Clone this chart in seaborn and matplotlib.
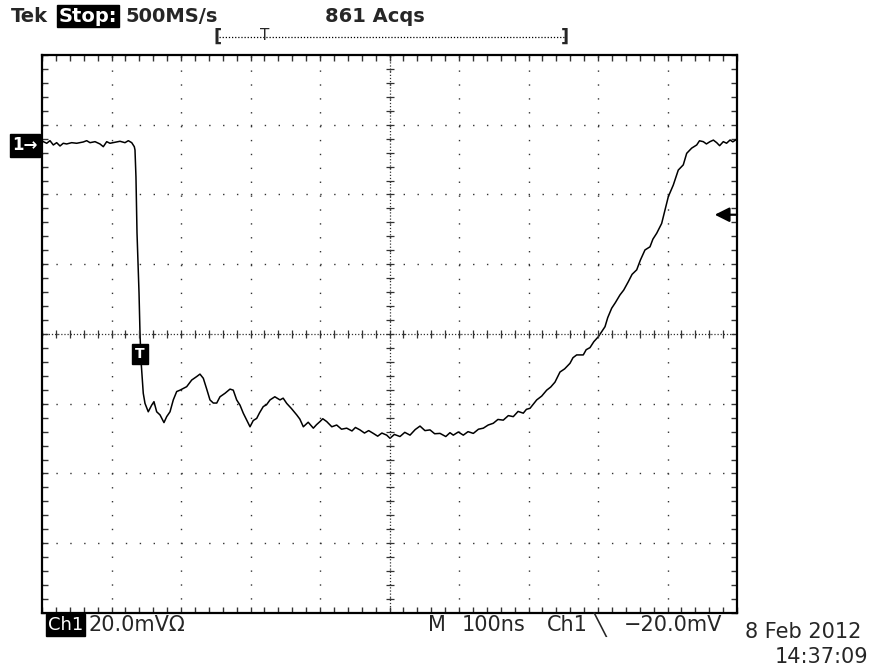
import numpy as np
import pandas as pd
import matplotlib
matplotlib.use("Agg")
import matplotlib.pyplot as plt
import seaborn as sns
from matplotlib.ticker import FixedLocator
from matplotlib.lines import Line2D

sns.set_theme(style="white")
plt.rcParams['font.family'] = ['DejaVu Sans']

# Ch1 trace: time in ns (relative to trigger), voltage in mV (relative to ground marker)
time_ns = [-141.0, -139.1, -134.2, -129.5, -124.7, -119.9, -115.1, -110.4, -105.5, -98.3,
           -91.1, -81.6, -76.7, -71.9, -64.7, -57.6, -52.8, -47.9, -43.2, -36.0,
           -28.8, -21.6, -16.8, -11.9, -8.2, -7.2, -5.8, -4.3, -1.4, 0.0,
           1.4, 4.7, 7.2, 11.9, 16.8, 20.1, 24.0, 28.8, 34.5, 38.4,
           43.2, 47.9, 52.8, 57.6, 62.3, 67.2, 74.4, 81.6, 86.3, 91.1,
           96.0, 100.7, 105.5, 110.4, 115.1, 122.3, 129.5, 134.2, 139.1, 143.9,
           148.6, 153.5, 158.3, 163.0, 167.9, 172.0, 177.4, 182.0, 187.1, 194.0,
           201.4, 206.0, 211.1, 218.0, 225.5, 230.0, 235.0, 242.0, 249.4, 254.0,
           259.0, 263.0, 268.6, 276.0, 283.0, 290.0, 297.4, 305.0, 310.0, 316.5,
           323.0, 329.0, 335.7, 342.0, 348.0, 355.0, 359.7, 366.0, 374.1, 381.0,
           388.5, 396.0, 402.9, 410.0, 417.3, 424.0, 431.7, 440.0, 446.0, 450.8,
           458.0, 465.2, 472.0, 479.6, 487.0, 494.0, 501.0, 508.3, 515.0, 522.7,
           530.0, 537.1, 544.0, 551.5, 556.0, 561.2, 570.8, 578.0, 585.2, 591.0,
           597.1, 604.3, 611.0, 618.7, 623.0, 628.3, 637.8, 642.0, 647.5, 653.0,
           659.4, 664.0, 669.1, 673.0, 678.7, 684.0, 690.6, 696.0, 702.6, 708.0,
           714.7, 720.0, 726.6, 733.8, 738.0, 743.5, 750.6, 755.4, 760.2, 767.3,
           774.5, 781.7, 786.6, 793.8, 801.0, 805.0, 810.5, 815.0, 820.1, 825.0,
           829.8, 834.0, 839.3, 844.0, 849.0, 853.0, 858.6]
ch1_mv = [0.9, 0.95, 0.49, 1.23, 0.0, 0.66, -0.29, 0.49, 0.29, 0.66,
          0.49, 0.86, 1.23, 0.66, 0.95, 0.29, -0.49, 0.95, 0.49, 0.77,
          1.06, 0.66, 1.23, 0.66, -0.49, -1.43, -9.18, -25.2, -42.4, -53.9,
          -61.6, -71.2, -74.1, -76.5, -74.6, -73.6, -76.5, -77.4, -79.6, -77.9,
          -76.5, -73.1, -70.7, -70.3, -69.8, -69.3, -67.4, -66.4, -65.7, -66.9,
          -70.0, -73.1, -74.0, -74.0, -72.2, -71.2, -70.0, -70.3, -73.1, -74.6,
          -76.9, -78.9, -80.8, -79.0, -78.4, -76.8, -75.0, -74.5, -73.1, -72.2,
          -73.1, -72.6, -74.1, -75.6, -77.4, -78.6, -80.8, -79.5, -81.2, -80.2,
          -79.3, -78.5, -79.3, -80.8, -80.3, -81.5, -81.2, -82.0, -81.0, -81.7,
          -82.6, -81.9, -82.7, -83.5, -82.6, -83.2, -84.1, -83.0, -83.6, -82.4,
          -83.2, -81.6, -80.6, -81.9, -81.7, -82.8, -82.7, -83.6, -82.5, -83.2,
          -82.3, -83.2, -82.2, -82.7, -81.5, -81.2, -80.3, -79.8, -78.7, -78.9,
          -77.6, -77.9, -76.4, -76.9, -75.8, -75.5, -73.1, -72.0, -70.3, -69.4,
          -68.0, -65.1, -64.2, -62.6, -61.0, -60.2, -60.2, -58.7, -58.1, -56.4,
          -55.0, -53.6, -52.1, -49.5, -46.8, -45.2, -43.0, -41.6, -39.2, -37.1,
          -35.8, -33.0, -30.1, -29.2, -27.0, -25.3, -22.5, -18.6, -14.8, -11.5,
          -7.2, -5.7, -2.4, -0.9, 0.0, 1.2, 0.95, 0.3, 0.95, 1.4,
          0.66, -0.2, 0.95, 0.5, 1.43, 0.9, 1.63]

# screen settings: 100 ns/div, 20 mV/div, 10 x 8 divisions
T_LEFT, T_DIV = -141.0, 100.0
V_BOTTOM, V_DIV = -134.2, 20.0
TRIG_LEVEL = -20.0
TRIG_MARK_V = -59.9

W, H = 873, 670
def fx(x):
    return x / W
def fy(y):
    return 1 - y / H

df = pd.DataFrame({'t': time_ns, 'v': ch1_mv})

fig = plt.figure(figsize=(W / 100, H / 100), dpi=100)
ax = fig.add_axes([fx(42), fy(613), 695 / W, 558 / H])

sns.lineplot(data=df, x='t', y='v', ax=ax, color='black', lw=1.1,
             sort=False, estimator=None)

t_right = T_LEFT + 10 * T_DIV
v_top = V_BOTTOM + 8 * V_DIV
ax.set_xlim(T_LEFT, t_right)
ax.set_ylim(V_BOTTOM, v_top)
ax.set_xlabel('')
ax.set_ylabel('')

# graticule
ax.xaxis.set_major_locator(FixedLocator(np.arange(T_LEFT, t_right + 1, T_DIV)))
ax.yaxis.set_major_locator(FixedLocator(np.arange(V_BOTTOM, v_top + 0.1, V_DIV)))
ax.xaxis.set_minor_locator(FixedLocator(np.arange(T_LEFT, t_right + 1, T_DIV / 5)))
ax.yaxis.set_minor_locator(FixedLocator(np.arange(V_BOTTOM, v_top + 0.1, V_DIV / 5)))
ax.grid(True, which='major', color='#333333', lw=1.0, ls=(0, (1, 9)))
ax.tick_params(which='both', direction='in', length=4, width=1, color='#333333',
               top=True, right=True, bottom=True, left=True,
               labelbottom=False, labelleft=False)
for sp in ax.spines.values():
    sp.set_color('black')
    sp.set_linewidth(1.6)

tc = T_LEFT + 5 * T_DIV
vc = V_BOTTOM + 4 * V_DIV
ax.axvline(tc, color='#333333', lw=0.9, ls=(0, (1, 1.5)))
ax.axhline(vc, color='#333333', lw=0.9, ls=(0, (1, 1.5)))
xt = np.arange(T_LEFT, t_right + 1, T_DIV / 5)
yt = np.arange(V_BOTTOM, v_top + 0.1, V_DIV / 5)
ax.plot(xt, np.full(len(xt), vc), ls='none', marker='|', ms=6, mew=0.9, color='#333333')
ax.plot(np.full(len(yt), tc), yt, ls='none', marker='_', ms=6, mew=0.9, color='#333333')

# trigger marker and trigger level arrow
ax.text(0, TRIG_MARK_V, 'T', color='white', fontsize=10, fontweight='bold',
        ha='center', va='center', zorder=5,
        bbox=dict(fc='black', ec='black', boxstyle='square,pad=0.2'))
ax.annotate('', xy=(0.968, TRIG_LEVEL), xycoords=('axes fraction', 'data'),
            xytext=(1.0, TRIG_LEVEL), textcoords=('axes fraction', 'data'),
            arrowprops=dict(arrowstyle='-|>', color='black', lw=1.6, mutation_scale=22,
                            shrinkA=0, shrinkB=0))

# ground marker
fig.text(fx(12), fy(145), '1\u2192', color='white', fontsize=12, fontweight='bold',
         va='center', ha='left',
         bbox=dict(fc='black', ec='black', boxstyle='square,pad=0.15'))

# header
hk = dict(fontsize=14, fontweight='bold', va='center', ha='left')
fig.text(fx(11), fy(16), 'Tek', **hk)
fig.text(fx(59), fy(16), 'Stop:', color='white',
         bbox=dict(fc='black', ec='black', boxstyle='square,pad=0.1'), **hk)
fig.text(fx(125), fy(16), '500MS/s', **hk)
fig.text(fx(325), fy(16), '861 Acqs', **hk)

fig.add_artist(Line2D([fx(219), fx(564)], [fy(37), fy(37)], color='black',
                      lw=0.9, ls=(0, (1, 1.5))))
fig.text(fx(218), fy(37), '[', fontsize=13, fontweight='bold', ha='center', va='center')
fig.text(fx(565), fy(37), ']', fontsize=13, fontweight='bold', ha='center', va='center')
fig.text(fx(265), fy(36), 'T', fontsize=11, ha='center', va='center')

# footer
fk = dict(fontsize=15, va='center', ha='left')
fig.text(fx(48), fy(625), 'Ch1', color='white', fontsize=13, va='center', ha='left',
         bbox=dict(fc='black', ec='black', boxstyle='square,pad=0.1'))
fig.text(fx(88), fy(625), '20.0mV\u03a9', **fk)
fig.text(fx(428), fy(625), 'M', **fk)
fig.text(fx(462), fy(625), '100ns', **fk)
fig.text(fx(547), fy(625), 'Ch1', **fk)
fig.text(fx(594), fy(625), '\u2572', **fk)
fig.text(fx(624), fy(625), '\u221220.0mV', **fk)
fig.text(fx(745), fy(632), '8 Feb 2012', **fk)
fig.text(fx(775), fy(657), '14:37:09', **fk)

fig.savefig('out.png', dpi=100)
